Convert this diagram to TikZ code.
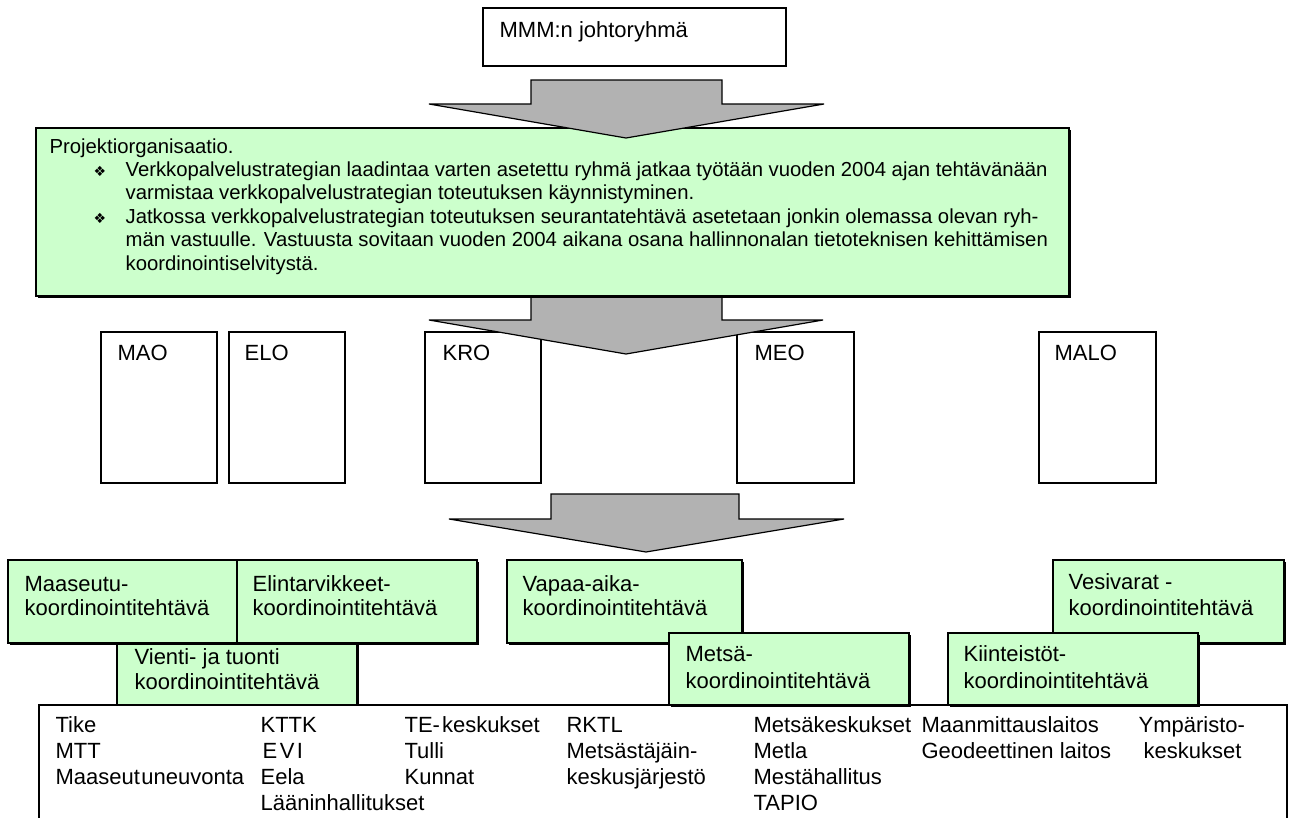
\documentclass[tikz,border=0pt]{standalone}
\usepackage{fontspec}
\setmainfont{Liberation Sans}
\newfontfamily\dvsans{DejaVu Sans}
\usetikzlibrary{fit,shadows}
\definecolor{lgreen}{HTML}{CCFFCC}
\definecolor{agray}{HTML}{B2B2B2}
\newcommand\tline[4]{\node[txt] (#1) at (#2,#3) {#4};}
\begin{document}
\begin{tikzpicture}[x=1pt,y=-1pt,line width=1.2pt,
  wbox/.style={draw=black,fill=white,inner sep=0pt},
  gbox/.style={draw=black,fill=lgreen,inner sep=0pt,
    drop shadow={shadow xshift=1.5pt,shadow yshift=-1.5pt,fill=black,opacity=1}},
  blockarrow/.style={draw=black,fill=agray,line join=miter},
  txt/.style={inner sep=0pt,anchor=west,font=\fontsize{22}{25}\selectfont,
    text height=16pt,text depth=5pt},
  ptxt/.style={txt,font=\fontsize{20.3}{23}\selectfont,text height=15pt,text depth=4.5pt},
  bullet/.style={inner sep=0pt,font=\dvsans\fontsize{14}{14}\selectfont}]
\useasboundingbox (0,0) rectangle (1293,817);

% top box
\node[wbox,fit={(483,8) (786,66)}] (top) {};
\tline{toptxt}{499}{32}{MMM:n johtoryhmä}

% organisation boxes
\node[wbox,fit={(101,332) (217,483)}] (mao) {};
\node[wbox,fit={(229,332) (345,483)}] (elo) {};
\node[wbox,fit={(425,332) (541,483)}] (kro) {};
\node[wbox,fit={(737,332) (854,483)}] (meo) {};
\node[wbox,fit={(1039,332) (1156,483)}] (malo) {};
\tline{maot}{117}{355}{MAO}
\tline{elot}{244}{355}{ELO}
\tline{krot}{442}{355}{KRO}
\tline{meot}{754}{355}{MEO}
\tline{malot}{1054}{355}{MALO}

% arrow 2 (under the project box)
\draw[blockarrow] (531,290) -- (722,290) -- (722,320) -- (823,320) -- (626,354)
  -- (429,320) -- (531,320) -- cycle;

% project box
\node[gbox,fit={(36,128) (1069,296)}] (proj) {};

% arrow 1
\draw[blockarrow] (531,80) -- (722,80) -- (722,104) -- (824,104) -- (626,138)
  -- (429,104) -- (531,104) -- cycle;

\node[ptxt] (p0) at (49,148) {Projektiorganisaatio.};
\node[bullet] (b1) at (100,171) {❖};
\node[bullet] (b2) at (100,218) {❖};
\node[ptxt] (p1) at (125,171) {Verkkopalvelustrategian laadintaa varten asetettu ryhmä jatkaa työtään vuoden 2004 ajan tehtävänään};
\node[ptxt] (p2) at (125,194.5) {varmistaa verkkopalvelustrategian toteutuksen käynnistyminen.};
\node[ptxt] (p3) at (125,218) {Jatkossa verkkopalvelustrategian toteutuksen seurantatehtävä asetetaan jonkin olemassa olevan ryh-};
\node[ptxt] (p4) at (125,241.5) {män vastuulle. Vastuusta sovitaan vuoden 2004 aikana osana hallinnonalan tietoteknisen kehittämisen};
\node[ptxt] (p5) at (125,265) {koordinointiselvitystä.};

% arrow 3
\draw[blockarrow] (551,494) -- (739,494) -- (739,519) -- (844,519) -- (646,552)
  -- (449,519) -- (551,519) -- cycle;

% coordination boxes
\node[gbox,fit={(117,636) (357,705)}] (vienti) {};
\node[gbox,fit={(8,560) (237,643)}] (maaseutu) {};
\node[gbox,fit={(237,560) (477,643)}] (elintarv) {};
\node[gbox,fit={(507,560) (742,643)}] (vapaa) {};
\node[gbox,fit={(1053,560) (1284,643)}] (vesi) {};
\node[wbox,fit={(39,705) (1287,840)}] (orgs) {};
\node[gbox,fit={(669,633) (909,705)}] (metsa) {};
\node[gbox,fit={(948,633) (1198,705)}] (kiint) {};

\tline{ma1}{24}{586}{Maaseutu-}
\tline{ma2}{24}{610}{koordinointitehtävä}
\tline{el1}{252}{586}{Elintarvikkeet-}
\tline{el2}{252}{610}{koordinointitehtävä}
\tline{va1}{522}{586}{Vapaa-aika-}
\tline{va2}{522}{610}{koordinointitehtävä}
\tline{ve1}{1068}{584}{Vesivarat -}
\tline{ve2}{1068}{610}{koordinointitehtävä}
\tline{vi1}{134}{659}{Vienti- ja tuonti}
\tline{vi2}{134}{684}{koordinointitehtävä}
\tline{me1}{685}{656}{Metsä-}
\tline{me2}{685}{683}{koordinointitehtävä}
\tline{ki1}{963}{656}{Kiinteistöt-}
\tline{ki2}{963}{683}{koordinointitehtävä}

% organisations list
\tline{o11}{55}{727}{Tike}
\tline{o12}{55}{753}{MTT}
\tline{o13}{55}{779}{Maaseut\hspace{1.5pt}uneuvonta}
\tline{o21}{260}{727}{KTTK}
\tline{o22}{262}{753}{E\hspace{2.5pt}V\hspace{2.5pt}I}
\tline{o23}{260}{779}{Eela}
\tline{o24}{260}{805}{Lääninhallitukset}
\tline{o31}{404}{727}{TE-\hspace{2pt}keskukset}
\tline{o32}{404}{753}{Tulli}
\tline{o33}{404}{779}{Kunnat}
\tline{o41}{566}{727}{RKTL}
\tline{o42}{566}{753}{Metsästäjäin-}
\tline{o43}{566}{779}{keskusjärjestö}
\tline{o51}{753}{727}{Metsäkeskukset}
\tline{o52}{753}{753}{Metla}
\tline{o53}{753}{779}{Mestähallitus}
\tline{o54}{753}{805}{TAPIO}
\tline{o61}{921}{727}{Maanmittauslaitos}
\tline{o62}{921}{753}{Geodeettinen laitos}
\tline{o71}{1138}{727}{Ympäristo-}
\tline{o72}{1143}{753}{keskukset}
\end{tikzpicture}
\end{document}
